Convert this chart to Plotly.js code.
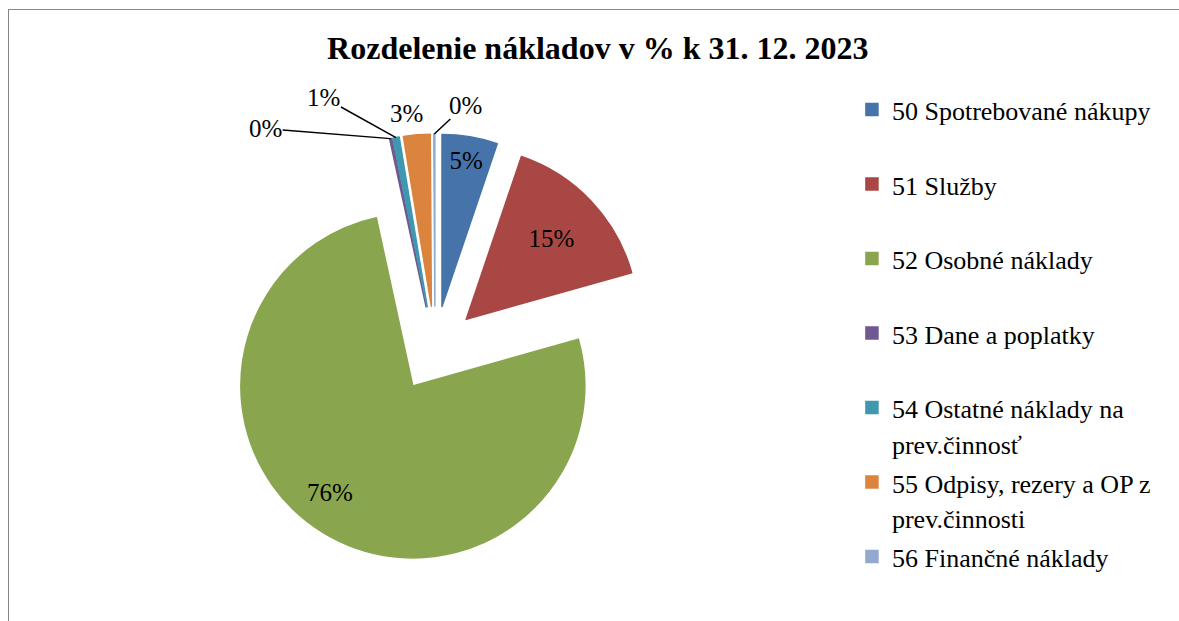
<!DOCTYPE html>
<html>
<head>
<meta charset="utf-8">
<script src="https://cdn.plot.ly/plotly-3.0.1.min.js"></script>
<style>
  body { margin: 0; background: #ffffff; }
  #wrap { position: relative; width: 1179px; height: 621px; overflow: hidden; }
  #chart { width: 1179px; height: 621px; }
  #frame { position: absolute; left: 8px; top: 9px; width: 1300px; height: 700px;
           border-left: 1.5px solid #868686; border-top: 1.5px solid #868686; pointer-events: none; }
</style>
</head>
<body>
<div id="wrap">
  <div id="chart"></div>
  <div id="frame"></div>
</div>
<script>
// ---- data ----
const categories = [
  "50 Spotrebované nákupy",
  "51 Služby",
  "52 Osobné náklady",
  "53 Dane a poplatky",
  "54 Ostatné náklady na prev.činnosť",
  "55 Odpisy, rezery a OP z prev.činnosti",
  "56 Finančné náklady"
];
const shares = [5.2, 15.4, 75.9, 0.2, 0.6, 2.5, 0.1];   // % of total costs
const chartTitle = "Rozdelenie nákladov v % k 31. 12. 2023";

// ---- styling ----
const colors = ["#4673a9", "#a94744", "#89a64e", "#705990", "#3f98b0", "#db843e", "#93a9cf"];
const FONT = "Liberation Serif";
const W = 1179, H = 621;
const DOMAIN = { x: [0.1866, 0.5513], y: [0.0918, 0.7842] };
const PULL = 0.25;

// wrap legend labels like the original (max ~24 chars per line), pad to two lines
function wrap(s, max) {
  const words = s.split(" ");
  const lines = [];
  let cur = "";
  words.forEach(w => {
    if (cur && (cur + " " + w).length > max) { lines.push(cur); cur = w; }
    else { cur = cur ? cur + " " + w : w; }
  });
  lines.push(cur);
  while (lines.length < 2) lines.push("\u00a0");
  return lines.map(l => '<span style="font-size:26px">' + l + '</span>').join("<br>");
}
const legendLabels = categories.map(c => wrap(c, 24));

// label placement per slice: native inside text, or an annotation
// ("leader" = outside label with a leader line, "inner" = label inside a slice)
const placement = ["native", "native", "inner", "leader", "leader", "above", "leader"];
const textPos = placement.map(p => p === "native" ? "inside" : "none");

const trace = {
  type: "pie",
  labels: legendLabels,
  values: shares,
  sort: false,
  direction: "clockwise",
  rotation: 0,
  pull: PULL,
  marker: { colors: colors, line: { color: colors, width: 1.5 } },
  texttemplate: "%{percent:.0%}",
  textposition: textPos,
  insidetextorientation: "horizontal",
  textfont: { family: FONT, size: 25, color: "#000000" },
  insidetextfont: { family: FONT, size: 25, color: "#000000" },
  hoverinfo: "label+percent",
  domain: DOMAIN
};

// ---- annotation labels anchored to points computed from the data
// and the pie geometry Plotly uses ----
const total = shares.reduce((a, b) => a + b, 0);
const boxW = W * (DOMAIN.x[1] - DOMAIN.x[0]), boxH = H * (DOMAIN.y[1] - DOMAIN.y[0]);
const cx = W * (DOMAIN.x[0] + DOMAIN.x[1]) / 2;
const cy = H * (1 - (DOMAIN.y[0] + DOMAIN.y[1]) / 2);
const rOut = Math.min(boxW, boxH) / 2;             // = r * (1 + pull)
const r = rOut / (1 + PULL);
// offsets (pixels) from the anchor point
const labelOffsets = { 3: [-125, -10], 4: [-72, -40], 5: [-10, -21], 6: [31, -29] };
const innerPos = { 2: [0.784, 6.9] };              // radial fraction, angle shift (deg)
const annotations = [];
let cum = 0;
shares.forEach((v, i) => {
  const mid = (cum + v / 2) / total * 2 * Math.PI;
  cum += v;
  const p = placement[i];
  if (p === "native") return;
  const txt = Math.round(v / total * 100) + "%";
  const font = { family: FONT, size: 25, color: "#000000" };
  if (p === "inner") {
    const scx = cx + PULL * r * Math.sin(mid), scy = cy - PULL * r * Math.cos(mid);
    const a2 = mid + innerPos[i][1] * Math.PI / 180;
    const lx = scx + innerPos[i][0] * r * Math.sin(a2), ly = scy - innerPos[i][0] * r * Math.cos(a2);
    annotations.push({ x: lx / W, y: 1 - ly / H, xref: "paper", yref: "paper", text: txt, font,
      showarrow: false, xanchor: "center", yanchor: "middle" });
    return;
  }
  const tx = cx + rOut * Math.sin(mid), ty = cy - rOut * Math.cos(mid);
  const off = labelOffsets[i];
  const a = { x: tx / W, y: 1 - ty / H, xref: "paper", yref: "paper", text: txt, font };
  if (p === "leader") {
    Object.assign(a, { showarrow: true, arrowhead: 0, arrowwidth: 1.5, arrowcolor: "#000000",
      ax: off[0], ay: off[1], standoff: 0, borderpad: 0 });
  } else {
    Object.assign(a, { showarrow: false, xanchor: "center", yanchor: "middle",
      xshift: off[0], yshift: -off[1] });
  }
  annotations.push(a);
});

const layout = {
  width: W,
  height: H,
  margin: { l: 0, r: 0, t: 0, b: 0 },
  paper_bgcolor: "#ffffff",
  font: { family: FONT, color: "#000000" },
  title: {
    text: "<b>" + chartTitle + "</b>",
    font: { family: FONT, size: 32, color: "#000000" },
    x: 0.507, xref: "container", xanchor: "center",
    y: 0.923, yref: "container", yanchor: "middle"
  },
  showlegend: true,
  legend: {
    x: 0.7226, xanchor: "left",
    y: 0.863, yanchor: "top",
    valign: "top",
    font: { family: FONT, size: 27.5, color: "#000000" },
    bgcolor: "rgba(0,0,0,0)",
    borderwidth: 0,
    traceorder: "normal"
  },
  uniformtext: { mode: "show", minsize: 25 },
  annotations: annotations
};

Plotly.newPlot("chart", [trace], layout, { displayModeBar: false, staticPlot: true });
</script>
</body>
</html>
